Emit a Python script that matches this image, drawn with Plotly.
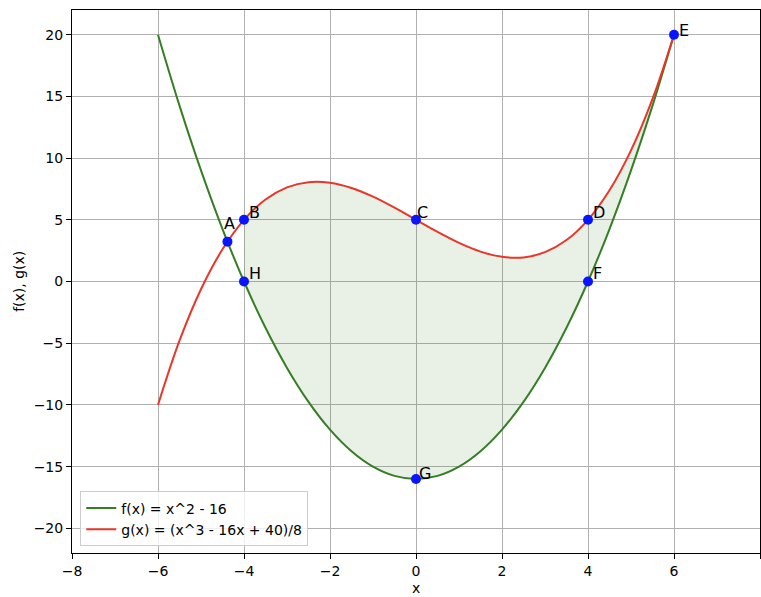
import plotly.graph_objects as go

# sampled curve values
x_vals = [-6, -5.5, -5, -4.5, -4, -3.5, -3, -2.5, -2, -1.5, -1, -0.5, 0,
          0.5, 1, 1.5, 2, 2.5, 3, 3.5, 4, 4.5, 5, 5.5, 6]
f_vals = [20, 14.25, 9, 4.25, 0, -3.75, -7, -9.75, -12, -13.75, -15, -15.75, -16,
          -15.75, -15, -13.75, -12, -9.75, -7, -3.75, 0, 4.25, 9, 14.25, 20]
g_vals = [-10, -4.797, -0.625, 2.609, 5, 6.641, 7.625, 8.047, 8, 7.578, 6.875, 5.984, 5,
          4.016, 3.125, 2.422, 2, 1.953, 2.375, 3.359, 5, 7.391, 10.625, 14.797, 20]

pt_labels = ["A", "B", "C", "D", "E", "F", "G", "H"]
pt_x = [-4.385, -4, 0, 4, 6, 4, 0, -4]
pt_y = [3.23, 5, 5, 5, 20, 0, -16, 0]

fill_from = -4
fill_to = 6

x_ticks = [-8, -6, -4, -2, 0, 2, 4, 6, 8]
y_ticks = [-20, -15, -10, -5, 0, 5, 10, 15, 20]

# label pixel offsets (style): right, up
lab_dx = [-4, 4, 0, 4, 4, 4, 2, 4]
lab_dy = [18, 7, 7, 7.5, 4, 8.5, 5, 8.5]

GREEN = "#347f24"
RED = "#e8372a"
FONT = "DejaVu Sans"

fig = go.Figure()

idx = [i for i, xv in enumerate(x_vals) if fill_from <= xv <= fill_to]
fx = [x_vals[i] for i in idx]
poly_x = fx + fx[::-1]
poly_y = [f_vals[i] for i in idx] + [g_vals[i] for i in idx][::-1]
fig.add_trace(go.Scatter(x=poly_x, y=poly_y, mode="lines", fill="toself",
                         fillcolor="rgba(52,127,36,0.11)", line=dict(width=0, shape="spline"),
                         showlegend=False, hoverinfo="skip"))

fig.add_trace(go.Scatter(x=x_vals, y=f_vals, mode="lines", name="f(x) = x^2 - 16",
                         line=dict(color=GREEN, width=2, shape="spline")))
fig.add_trace(go.Scatter(x=x_vals, y=g_vals, mode="lines", name="g(x) = (x^3 - 16x + 40)/8",
                         line=dict(color=RED, width=2, shape="spline")))

fig.add_trace(go.Scatter(x=pt_x, y=pt_y, mode="markers", showlegend=False,
                         marker=dict(color="#0a14ff", size=10)))

for lab, px, py, dx, dy in zip(pt_labels, pt_x, pt_y, lab_dx, lab_dy):
    fig.add_annotation(x=px, y=py, text=lab, showarrow=False, xanchor="left", yanchor="middle",
                       xshift=dx, yshift=dy, borderpad=0,
                       font=dict(family=FONT, size=16, color="black"))

# axis titles
fig.add_annotation(x=0.5, y=-0.065, xref="paper", yref="paper", text="x", showarrow=False,
                   xanchor="center", yanchor="middle", font=dict(family=FONT, size=14, color="black"))
fig.add_annotation(x=-0.078, y=0.5, xref="paper", yref="paper", text="f(x), g(x)", showarrow=False,
                   textangle=-90, xanchor="center", yanchor="middle",
                   font=dict(family=FONT, size=14, color="black"))

axis_common = dict(showgrid=True, gridcolor="#b0b0b0", gridwidth=1, zeroline=False,
                   showline=True, linecolor="black", linewidth=1, mirror=True,
                   ticks="outside", ticklen=5, tickcolor="black", automargin=False,
                   tickfont=dict(family=FONT, size=14, color="black"))

fig.update_xaxes(range=[-8, 8], tickvals=x_ticks, **axis_common)
fig.update_yaxes(range=[-22, 22], tickvals=y_ticks, **axis_common)

fig.update_layout(
    width=761, height=597,
    margin=dict(l=72, r=1, t=10, b=44),
    plot_bgcolor="white", paper_bgcolor="white",
    font=dict(family=FONT, size=14, color="black"),
    legend=dict(x=0.012, y=0.012, xanchor="left", yanchor="bottom",
                bgcolor="rgba(255,255,255,0.8)", bordercolor="#cccccc", borderwidth=1,
                font=dict(family=FONT, size=14), tracegroupgap=0),
)

fig.write_html("out.html", config={"responsive": False, "displayModeBar": False},
               post_script="document.body.style.margin='0';document.body.style.overflow='hidden';")
